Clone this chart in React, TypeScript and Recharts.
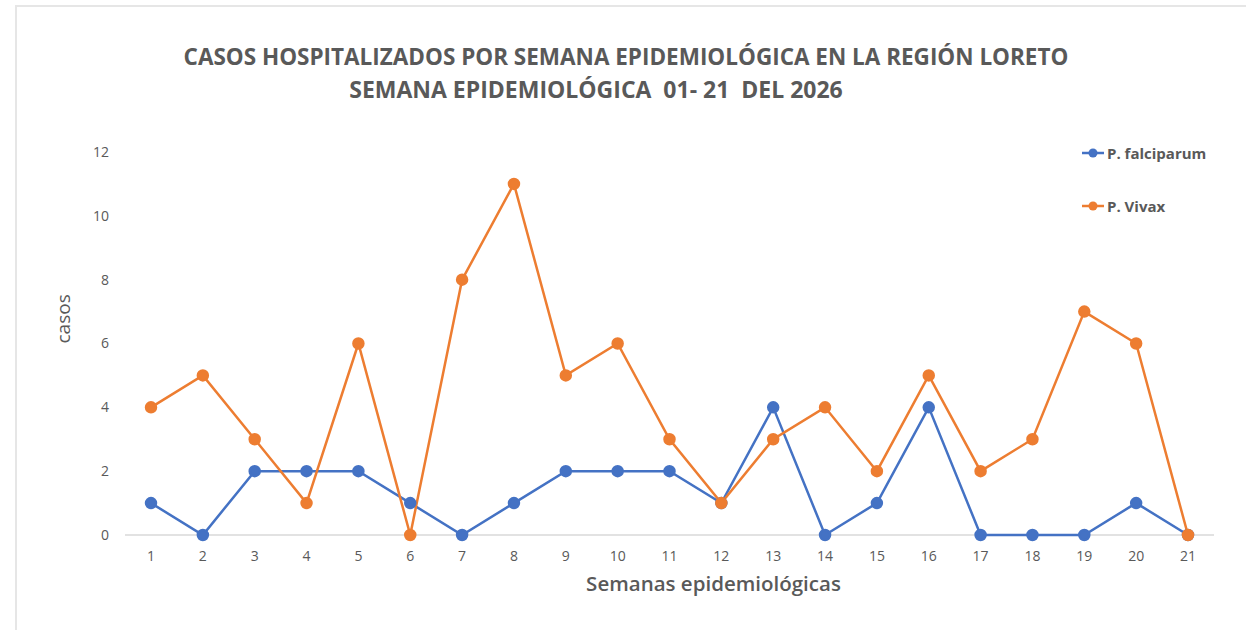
import { LineChart, Line, XAxis, YAxis, CartesianGrid } from 'recharts';

const semanas = ['1', '2', '3', '4', '5', '6', '7', '8', '9', '10', '11', '12', '13', '14', '15', '16', '17', '18', '19', '20', '21'];
const falciparum = [1, 0, 2, 2, 2, 1, 0, 1, 2, 2, 2, 1, 4, 0, 1, 4, 0, 0, 0, 1, 0];
const vivax = [4, 5, 3, 1, 6, 0, 8, 11, 5, 6, 3, 1, 3, 4, 2, 5, 2, 3, 7, 6, 0];
const yTicks = [0, 2, 4, 6, 8, 10, 12];

const series = [
  { key: 'falciparum', name: 'P. falciparum', color: '#4472C4' },
  { key: 'vivax', name: 'P. Vivax', color: '#ED7D31' },
];

const data = semanas.map((s, i) => ({
  semana: s,
  falciparum: falciparum[i],
  vivax: vivax[i],
}));

const FONT = '"Open Sans", Arial, sans-serif';
const GREY = '#595959';

// leyenda a mano: la de Recharts le quita ancho al área de trazado
function Leyenda() {
  return (
    <div style={{ position: 'absolute', left: 1082, top: 143 }}>
      {series.map((s) => (
        <div key={s.key} style={{ display: 'flex', alignItems: 'center', height: 20, marginBottom: 33 }}>
          <svg width={22} height={12} style={{ marginRight: 3 }}>
            <line x1={0} y1={6} x2={22} y2={6} stroke={s.color} strokeWidth={2.5} />
            <circle cx={11} cy={6} r={4.5} fill={s.color} />
          </svg>
          <span style={{ color: GREY, fontSize: 15, fontWeight: 'bold' }}>{s.name}</span>
        </div>
      ))}
    </div>
  );
}

export default function App() {
  return (
    <div
      style={{
        position: 'absolute',
        left: 0,
        top: 0,
        width: 1246,
        height: 630,
        background: '#fff',
        fontFamily: FONT,
        overflow: 'hidden',
      }}
    >
      <div
        style={{
          position: 'absolute',
          left: 15,
          top: 5,
          width: 1260,
          height: 640,
          border: '2px solid #e6e6e6',
        }}
      />
      <div
        style={{
          position: 'absolute',
          left: 0,
          top: 40,
          width: 1246,
          textAlign: 'center',
          color: GREY,
          fontWeight: 'bold',
          fontSize: 22.5,
          lineHeight: '33px',
        }}
      >
        <div style={{ transform: 'translateX(3px)' }}>
          CASOS HOSPITALIZADOS POR SEMANA EPIDEMIOLÓGICA EN LA REGIÓN LORETO
        </div>
        <div style={{ transform: 'translateX(-27px)', fontSize: 23 }}>
          SEMANA EPIDEMIOLÓGICA&nbsp; 01- 21&nbsp; DEL 2026
        </div>
      </div>

      <div style={{ position: 'absolute', left: 0, top: 0 }}>
        <LineChart
          width={1246}
          height={630}
          data={data}
          margin={{ top: 152, right: 32, bottom: 57, left: 85 }}
        >
          {/* línea base en el 0 detrás de las series */}
          <CartesianGrid vertical={false} horizontalValues={[0]} stroke="#d9d9d9" strokeWidth={1.5} />
          <XAxis
            dataKey="semana"
            padding={{ left: 26, right: 26 }}
            axisLine={false}
            tickLine={false}
            tick={{ fill: GREY, fontSize: 14, fontFamily: FONT }}
            tickMargin={10}
            height={38}
            label={{
              value: 'Semanas epidemiológicas',
              position: 'insideBottom',
              offset: -18,
              fill: GREY,
              fontSize: 20.5,
              fontFamily: FONT,
              fontWeight: 600,
              dx: 44,
            }}
          />
          <YAxis
            domain={[0, 12]}
            ticks={yTicks}
            axisLine={false}
            tickLine={false}
            width={40}
            tick={{ fill: GREY, fontSize: 14, fontFamily: FONT }}
            tickMargin={10}
            label={{
              value: 'casos',
              angle: -90,
              position: 'insideLeft',
              offset: -22,
              fill: GREY,
              fontSize: 19,
              fontFamily: FONT,
            }}
          />
          {series.map((s) => (
            <Line
              key={s.key}
              name={s.name}
              dataKey={s.key}
              stroke={s.color}
              strokeWidth={2.5}
              dot={{ r: 5, fill: s.color, stroke: s.color }}
              activeDot={false}
              isAnimationActive={false}
            />
          ))}
        </LineChart>
      </div>
      <Leyenda />
    </div>
  );
}
